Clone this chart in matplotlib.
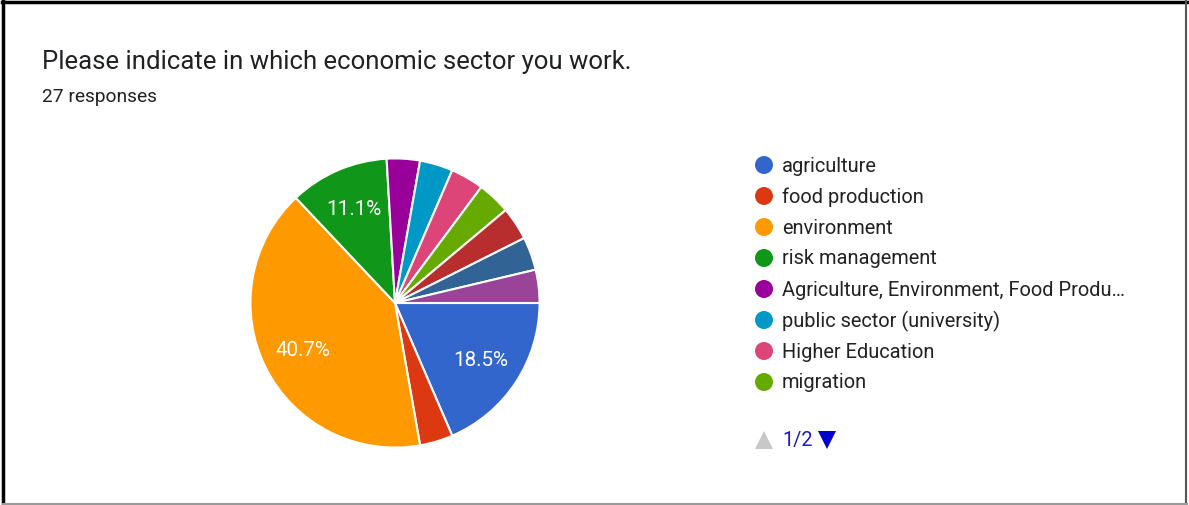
import matplotlib.pyplot as plt
from matplotlib.patches import Circle, Polygon

plt.rcParams['font.family'] = ['Roboto', 'DejaVu Sans']

title = 'Please indicate in which economic sector you work.'
subtitle = '27 responses'

# responses per sector (pie order, clockwise from 3 o'clock)
counts = [5, 1, 11, 3, 1, 1, 1, 1, 1, 1, 1]
colors = ['#3366cc', '#dc3912', '#ff9900', '#109618', '#990099', '#0099c6',
          '#dd4477', '#66aa00', '#b82e2e', '#316395', '#994499']
# legend page 1 of 2
legend_labels = ['agriculture', 'food production', 'environment', 'risk management',
                 'Agriculture, Environment, Food Produ…', 'public sector (university)',
                 'Higher Education', 'migration']
page_text = '1/2'

W, H = 1189, 506
fig = plt.figure(figsize=(W / 100, H / 100), dpi=100)
fig.patch.set_facecolor('white')

# overlay in pixel coordinates
ov = fig.add_axes([0, 0, 1, 1])
ov.set_xlim(0, W)
ov.set_ylim(H, 0)
ov.axis('off')

# frame
ov.plot([3, 3], [2, H - 1], color='black', lw=2.5)
ov.plot([2, W - 2], [3, 3], color='black', lw=2.5)
ov.plot([W - 3, W - 3], [2, H - 1], color='#555555', lw=1.5)
ov.plot([3, W - 2], [H - 1.5, H - 1.5], color='#999999', lw=1.5)

ov.text(42, 62, title, fontsize=18.5, color='#202124', va='center', ha='left')
ov.text(42, 97, subtitle, fontsize=13.8, color='#202124', va='center', ha='left')

# legend
y0, dy = 166, 31
for i, lab in enumerate(legend_labels):
    y = y0 + i * dy
    ov.add_patch(Circle((764, y), 9, color=colors[i], lw=0))
    ov.text(782, y, lab, fontsize=14.4, color='#222222', va='center', ha='left')

# pager
ov.add_patch(Polygon([[755, 450], [773, 450], [764, 432]], closed=True, color='#c8c8c8', lw=0))
ov.text(782, 441, page_text, fontsize=14.4, color='#1a1acc', va='center', ha='left')
ov.add_patch(Polygon([[818, 432], [836, 432], [827, 450]], closed=True, color='#0000cc', lw=0))

# pie
cx, cy, r = 395, 304, 146
ax = fig.add_axes([(cx - r) / W, (H - cy - r) / H, 2 * r / W, 2 * r / H])


def fmt(p):
    return f'{p:.1f}%' if p >= 5 else ''


wedges, texts, autotexts = ax.pie(counts, colors=colors, startangle=0, counterclock=False,
                                  autopct=fmt, pctdistance=0.71, radius=1,
                                  wedgeprops=dict(edgecolor='white', linewidth=1.5))
for t in autotexts:
    t.set_color('white')
    t.set_fontsize(14.8)
ax.set_xlim(-1.01, 1.01)
ax.set_ylim(-1.01, 1.01)
ax.set_aspect('equal')
ax.axis('off')

fig.savefig('out.png', dpi=100, facecolor='white')
